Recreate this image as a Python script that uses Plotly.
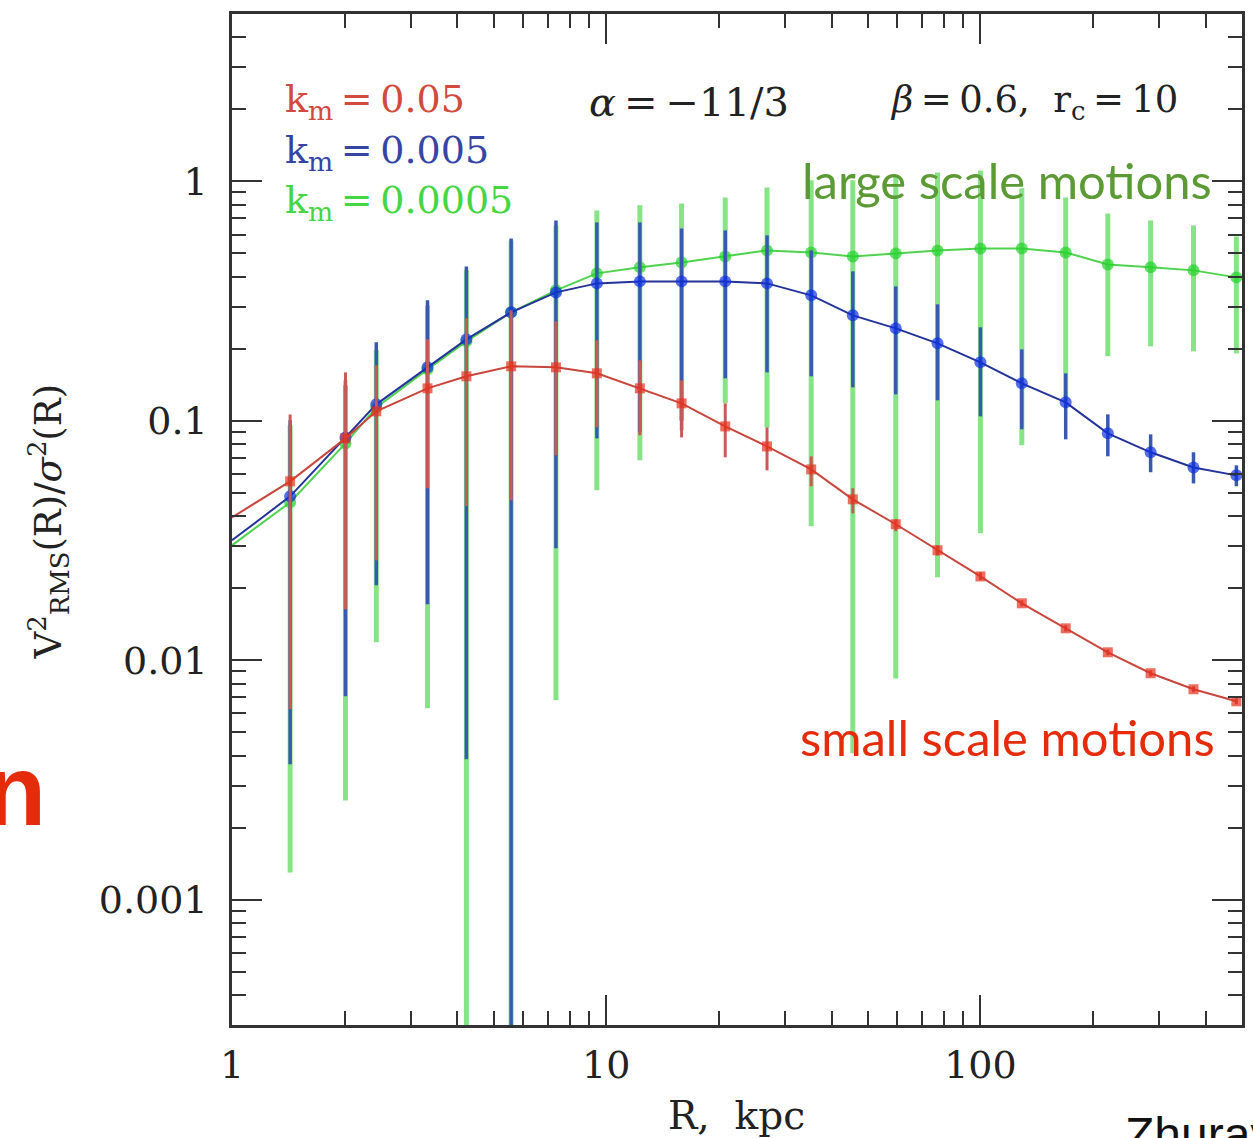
import plotly.graph_objects as go

# ---------------- data ----------------
R = [1.0, 1.43, 2.01, 2.43, 3.33, 4.23, 5.57, 7.34, 9.44, 12.3, 15.9, 20.8,
     26.9, 35.3, 45.6, 59.4, 76.8, 100, 129, 169, 219, 285, 371, 483]

red_y = [0.0395, 0.0559, 0.0845, 0.1096, 0.1367, 0.1534, 0.1689, 0.1673, 0.1579,
         0.1367, 0.1183, 0.0948, 0.0782, 0.0627, 0.0470, 0.0370, 0.0288, 0.0224,
         0.0173, 0.0136, 0.0108, 0.00883, 0.00757, 0.00674]
red_hi = [0.0395, 0.1064, 0.1594, 0.1705, 0.2189, 0.2679, 0.2892, 0.2603, 0.2169,
          0.1789, 0.1476, 0.1183, 0.0939, 0.0711, 0.0523, 0.0388, 0.0302, 0.0233,
          0.0178, 0.0140, 0.0111, 0.00908, 0.00779, 0.00694]
red_lo = [0.0395, 0.00624, 0.01633, 0.02615, 0.0523, 0.0440, 0.0466, 0.0718, 0.0939,
          0.0870, 0.0853, 0.0704, 0.0621, 0.0533, 0.0411, 0.0346, 0.0274, 0.0216,
          0.0168, 0.0132, 0.0105, 0.00857, 0.00735, 0.00655]

blue_y = [0.0317, 0.0484, 0.0853, 0.1172, 0.1673, 0.2189, 0.2838, 0.3439, 0.3750,
          0.3823, 0.3823, 0.3823, 0.3750, 0.3342, 0.2758, 0.2433, 0.2107, 0.1755,
          0.1434, 0.1195, 0.0887, 0.0739, 0.0639, 0.0592]
blue_hi = [0.0317, 0.1005, 0.1476, 0.2127, 0.3185, 0.4416, 0.578, 0.687, 0.674,
           0.674, 0.636, 0.624, 0.595, 0.515, 0.421, 0.3642, 0.3066, 0.2458,
           0.1988, 0.1579, 0.1064, 0.0878, 0.0739, 0.0652]
blue_lo = [0.0317, 0.00368, 0.00707, 0.0206, 0.01713, 0.00386, 0.0001, 0.02935, 0.0845,
           0.0895, 0.0913, 0.1505, 0.1594, 0.1534, 0.1380, 0.1290, 0.1218, 0.1044,
           0.0922, 0.0837, 0.0711, 0.0610, 0.0548, 0.0533]

green_y = [0.0302, 0.0457, 0.0805, 0.1138, 0.1641, 0.2147, 0.2838, 0.3507, 0.4129,
           0.4375, 0.4589, 0.486, 0.515, 0.505, 0.486, 0.5004, 0.515, 0.525,
           0.525, 0.505, 0.450, 0.4375, 0.425, 0.3973]
green_hi = [0.0302, 0.0958, 0.1407, 0.197, 0.3035, 0.425, 0.567, 0.655, 0.756,
            0.794, 0.809, 0.857, 0.944, 1.01, 1.01, 1.06, 1.09, 1.11,
            0.935, 0.857, 0.735, 0.687, 0.655, 0.589]
green_lo = [0.0302, 0.00130, 0.00260, 0.01189, 0.0063, 0.0001, 0.0001, 0.00681, 0.0513,
            0.0684, 0.100, 0.1183, 0.0939, 0.0363, 0.00409, 0.0084, 0.0222, 0.0339,
            0.0790, 0.1218, 0.186, 0.2047, 0.195, 0.1913]

x_ticks = [1, 10, 100]
x_ticklabels = ["1", "10", "100"]
y_ticks = [0.001, 0.01, 0.1, 1]
y_ticklabels = ["0.001", "0.01", "0.1", "1"]

# ---------------- figure ----------------
fig = go.Figure()

def add_series(y, hi, lo, line_col, mk_col, bar_col, bar_w, symbol, msize):
    sizes = [0] + [msize] * (len(R) - 1)
    fig.add_trace(go.Scatter(
        x=R, y=y, mode="lines+markers",
        line=dict(color=line_col, width=2),
        marker=dict(color=mk_col, size=sizes, symbol=symbol, line=dict(width=0)),
        error_y=dict(type="data", symmetric=False,
                     array=[h - v for h, v in zip(hi, y)],
                     arrayminus=[v - l for v, l in zip(y, lo)],
                     color=bar_col, thickness=bar_w, width=0),
        showlegend=False, cliponaxis=True,
    ))

add_series(green_y, green_hi, green_lo, "#4fd34f", "#22d22a", "#86e486", 5, "circle", 12)
add_series(blue_y, blue_hi, blue_lo, "#23339a", "#1030e0", "#3a58b0", 3.5, "circle", 12)
add_series(red_y, red_hi, red_lo, "#c8463c", "#e5301e", "#c75a58", 3, "square", 10)

serif = "DejaVu Serif"
sans = "Lato"

minor_x = [m * 10 ** d for d in range(0, 3) for m in range(2, 10) if m * 10 ** d <= 500]
minor_y = [m * 10 ** d for d in range(-4, 1) for m in range(2, 10)
           if 0.0003 <= m * 10 ** d <= 5]

axis_common = dict(
    showline=True, linecolor="#333", linewidth=2.5, mirror="allticks",
    ticks="inside", ticklen=30, tickwidth=2, tickcolor="#333",
    showgrid=False, zeroline=False,
    tickfont=dict(family=serif, size=38, color="#222"),
)

fig.update_xaxes(type="log", range=[0, 2.699], tickvals=x_ticks, ticktext=x_ticklabels,
                 ticklabelstandoff=5,
                 minor=dict(tickvals=minor_x, ticks="inside", ticklen=14,
                            tickwidth=2, tickcolor="#333", showgrid=False),
                 **axis_common)
fig.update_yaxes(type="log", range=[-3.523, 0.699], tickvals=y_ticks, ticktext=y_ticklabels,
                 ticklabelstandoff=14,
                 minor=dict(tickvals=minor_y, ticks="inside", ticklen=14,
                            tickwidth=2, tickcolor="#333", showgrid=False),
                 **axis_common)

def px_x(p):
    return (p - 232) / 1013.0

def px_y(p):
    return (1025 - p) / 1011.0

T = "\u2009"  # thin space
annos = [
    dict(text="k<sub>m</sub>" + T + "=" + T + "0.05", x=px_x(283), y=px_y(102), xanchor="left",
         yanchor="middle", font=dict(family=serif, size=38, color="#d24a3c")),
    dict(text="k<sub>m</sub>" + T + "=" + T + "0.005", x=px_x(283), y=px_y(152), xanchor="left",
         yanchor="middle", font=dict(family=serif, size=38, color="#3545a5")),
    dict(text="k<sub>m</sub>" + T + "=" + T + "0.0005", x=px_x(283), y=px_y(202), xanchor="left",
         yanchor="middle", font=dict(family=serif, size=38, color="#45d545")),
    dict(text="<i>α</i>" + T + "=" + T + "−11/3", x=px_x(588), y=px_y(102), xanchor="left",
         yanchor="middle", font=dict(family=serif, size=40, color="#222")),
    dict(text="<i>β</i>" + T + "=" + T + "0.6,  r<sub>c</sub>" + T + "=" + T + "10", x=px_x(890),
         y=px_y(102), xanchor="left", yanchor="middle",
         font=dict(family=serif, size=37, color="#222")),
    dict(text="large scale motions", x=px_x(1217), y=px_y(180), xanchor="right", yanchor="middle",
         font=dict(family=sans, size=49, color="#5b9a35")),
    dict(text="small scale motions", x=px_x(1220), y=px_y(737), xanchor="right", yanchor="middle",
         font=dict(family=sans, size=49, color="#e42b0a")),
    dict(text="<b>n</b>", x=px_x(47), y=px_y(790), xanchor="right", yanchor="middle",
         font=dict(family="Liberation Sans", size=100, color="#e42b0a")),
    dict(text="Zhuravleva et al.", x=px_x(1126), y=px_y(1106), xanchor="left", yanchor="top",
         font=dict(family="Liberation Sans", size=48, color="#111")),
    dict(text="R,  kpc", x=px_x(738), y=px_y(1115), xanchor="center", yanchor="middle",
         font=dict(family=serif, size=39, color="#222")),
    dict(text="V<sup>2</sup><sub>RMS</sub>(R)/<i>σ</i><sup>2</sup>(R)", x=px_x(47), y=px_y(522),
         xanchor="center", yanchor="middle", textangle=-90,
         font=dict(family=serif, size=37, color="#222")),
]
for a in annos:
    a.update(xref="paper", yref="paper", showarrow=False)
fig.update_layout(annotations=annos)

fig.update_layout(
    width=1253, height=1138,
    margin=dict(l=232, r=8, t=14, b=113),
    paper_bgcolor="white", plot_bgcolor="white",
    showlegend=False,
)

fig.write_html("out.html")
